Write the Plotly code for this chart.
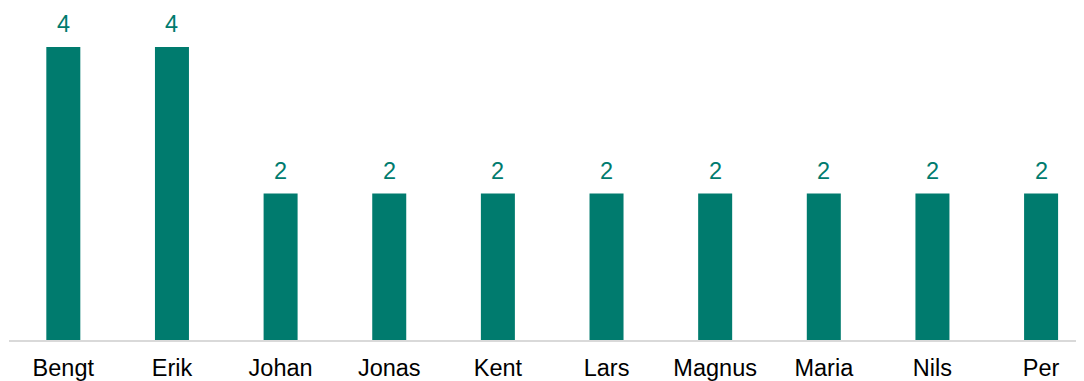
import plotly.graph_objects as go

names = ["Bengt", "Erik", "Johan", "Jonas", "Kent", "Lars", "Magnus", "Maria", "Nils", "Per"]
counts = [4, 4, 2, 2, 2, 2, 2, 2, 2, 2]

teal = "#007B6E"
font_family = "Liberation Sans, Arial, sans-serif"

fig = go.Figure(
    go.Bar(
        x=names,
        y=counts,
        marker=dict(color=teal, line=dict(width=0)),
        hoverinfo="x+y",
    )
)

# value labels above the bars
for name, value in zip(names, counts):
    fig.add_annotation(
        x=name,
        y=value,
        text=str(value),
        showarrow=False,
        yanchor="bottom",
        yshift=8,
        font=dict(family=font_family, size=23.5, color=teal),
    )

# page body keeps its default 8px margin, so the figure is 8px smaller
fig.update_layout(
    width=1076,
    height=373,
    margin=dict(l=1.4, r=0, t=0, b=40.5, autoexpand=False),
    paper_bgcolor="white",
    plot_bgcolor="white",
    bargap=0.687,
    showlegend=False,
    font=dict(family=font_family, size=23.5, color="#000000"),
)
fig.update_xaxes(
    range=[-0.5, 9.395],
    automargin=False,
    showline=True,
    linecolor="#D9D9D9",
    linewidth=1.5,
    showgrid=False,
    ticks="",
    ticklabelstandoff=6,
    tickfont=dict(family=font_family, size=23.5, color="#000000"),
)
fig.update_yaxes(
    range=[0, 4.533],
    automargin=False,
    visible=False,
    showgrid=False,
    zeroline=False,
)

fig.write_html("out.html")
